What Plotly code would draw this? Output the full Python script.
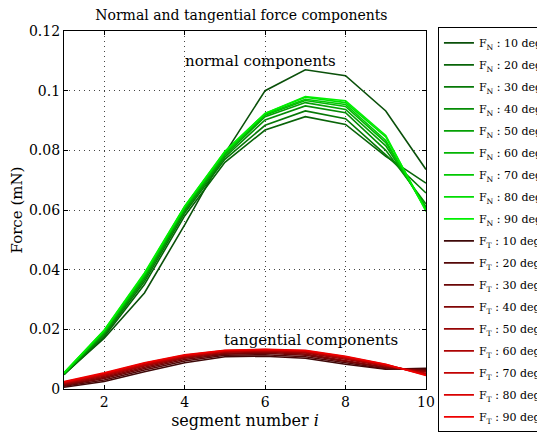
import plotly.graph_objects as go

segments = [1, 2, 3, 4, 5, 6, 7, 8, 9, 10]
angles = [10, 20, 30, 40, 50, 60, 70, 80, 90]

normal_10 = [0.0050, 0.0170, 0.0322, 0.0550, 0.0790, 0.1000, 0.1070, 0.1050, 0.0932, 0.0736]
normal_20 = [0.0048, 0.0175, 0.0350, 0.0580, 0.0760, 0.0868, 0.0913, 0.0887, 0.0780, 0.0690]
normal_30 = [0.0049, 0.0180, 0.0360, 0.0590, 0.0770, 0.0884, 0.0932, 0.0906, 0.0785, 0.0657]
normal_40 = [0.0050, 0.0185, 0.0368, 0.0597, 0.0777, 0.0902, 0.0949, 0.0926, 0.0800, 0.0620]
normal_50 = [0.0051, 0.0189, 0.0374, 0.0602, 0.0783, 0.0913, 0.0960, 0.0937, 0.0815, 0.0610]
normal_60 = [0.0052, 0.0192, 0.0379, 0.0606, 0.0788, 0.0918, 0.0967, 0.0947, 0.0826, 0.0605]
normal_70 = [0.0053, 0.0194, 0.0383, 0.0609, 0.0792, 0.0921, 0.0971, 0.0954, 0.0833, 0.0600]
normal_80 = [0.0054, 0.0196, 0.0386, 0.0611, 0.0795, 0.0924, 0.0978, 0.0960, 0.0845, 0.0600]
normal_90 = [0.0055, 0.0198, 0.0389, 0.0613, 0.0797, 0.0924, 0.0980, 0.0966, 0.0850, 0.0595]

tangential_10 = [0.0006, 0.0025, 0.0058, 0.0088, 0.0108, 0.0110, 0.0103, 0.0083, 0.0066, 0.0069]
tangential_20 = [0.0009, 0.0030, 0.0064, 0.0094, 0.0113, 0.0115, 0.0108, 0.0088, 0.0068, 0.0066]
tangential_30 = [0.0012, 0.0035, 0.0069, 0.0099, 0.0117, 0.0120, 0.0113, 0.0092, 0.0071, 0.0063]
tangential_40 = [0.0014, 0.0039, 0.0073, 0.0103, 0.0120, 0.0123, 0.0117, 0.0096, 0.0073, 0.0060]
tangential_50 = [0.0017, 0.0043, 0.0077, 0.0106, 0.0123, 0.0126, 0.0121, 0.0100, 0.0076, 0.0057]
tangential_60 = [0.0019, 0.0046, 0.0080, 0.0109, 0.0125, 0.0128, 0.0124, 0.0103, 0.0078, 0.0053]
tangential_70 = [0.0021, 0.0049, 0.0083, 0.0111, 0.0127, 0.0130, 0.0126, 0.0106, 0.0080, 0.0050]
tangential_80 = [0.0023, 0.0052, 0.0086, 0.0113, 0.0129, 0.0132, 0.0128, 0.0108, 0.0082, 0.0047]
tangential_90 = [0.0025, 0.0054, 0.0088, 0.0115, 0.0130, 0.0133, 0.0130, 0.0110, 0.0083, 0.0045]

normals = [normal_10, normal_20, normal_30, normal_40, normal_50,
           normal_60, normal_70, normal_80, normal_90]
tangentials = [tangential_10, tangential_20, tangential_30, tangential_40, tangential_50,
               tangential_60, tangential_70, tangential_80, tangential_90]

green_colors = ["rgb(10,80,10)", "rgb(8,100,8)", "rgb(6,120,6)", "rgb(5,140,5)", "rgb(4,160,4)",
                "rgb(3,180,3)", "rgb(2,200,2)", "rgb(1,220,1)", "rgb(0,240,0)"]
red_colors = ["rgb(62,8,8)", "rgb(84,7,7)", "rgb(106,6,6)", "rgb(128,5,5)", "rgb(150,4,4)",
              "rgb(172,3,3)", "rgb(194,2,2)", "rgb(216,1,1)", "rgb(238,0,0)"]

FONT = "DejaVu Serif"

fig = go.Figure()
for i, (a, vals) in enumerate(zip(angles, normals)):
    fig.add_trace(go.Scatter(x=segments, y=vals, mode="lines",
                             line=dict(color=green_colors[i], width=1.6),
                             name=f"F<sub>N</sub> : {a} deg", legendgroup=f"n{a}"))
for i, (a, vals) in enumerate(zip(angles, tangentials)):
    fig.add_trace(go.Scatter(x=segments, y=vals, mode="lines",
                             line=dict(color=red_colors[i], width=1.6),
                             name=f"F<sub>T</sub> : {a} deg", legendgroup=f"t{a}"))

axis_common = dict(showline=True, linecolor="black", linewidth=1.2, mirror="ticks",
                   ticks="inside", ticklen=4, tickcolor="black",
                   showgrid=True, gridcolor="#444", griddash="1px,4px", gridwidth=1,
                   zeroline=False, tickfont=dict(family=FONT, size=14, color="black"))

fig.update_xaxes(range=[1, 10], tickvals=[2, 4, 6, 8, 10],
                 title=dict(text="segment number <i>i</i>", font=dict(family=FONT, size=16, color="black"),
                            standoff=5),
                 **axis_common)
fig.update_yaxes(range=[0, 0.12], tickvals=[0, 0.02, 0.04, 0.06, 0.08, 0.1, 0.12],
                 ticktext=["0", "0.02", "0.04", "0.06", "0.08", "0.1", "0.12"],
                 title=dict(text="Force (mN)", font=dict(family=FONT, size=15, color="black"),
                            standoff=2),
                 **axis_common)

fig.add_annotation(x=5.88, y=0.110, text="normal components", showarrow=False,
                   font=dict(family=FONT, size=15, color="black"))
fig.add_annotation(x=7.15, y=0.0165, text="tangential components", showarrow=False,
                   font=dict(family=FONT, size=15, color="black"))

fig.update_layout(
    width=545, height=436,
    margin=dict(l=56, r=127, t=23, b=55, autoexpand=False),
    paper_bgcolor="white", plot_bgcolor="white",
    title=dict(text="Normal and tangential force components", xref="paper", x=0.49, xanchor="center",
               yref="container", y=0.994, yanchor="top", pad=dict(t=0, b=0),
               font=dict(family=FONT, size=14, color="black")),
    legend=dict(x=1.033, y=1.01, xanchor="left", yanchor="top",
                bordercolor="black", borderwidth=1, bgcolor="white",
                font=dict(family=FONT, size=11, color="black"),
                tracegroupgap=3, itemwidth=30, maxheight=440),
    showlegend=True,
)

fig.write_html("out.html")
